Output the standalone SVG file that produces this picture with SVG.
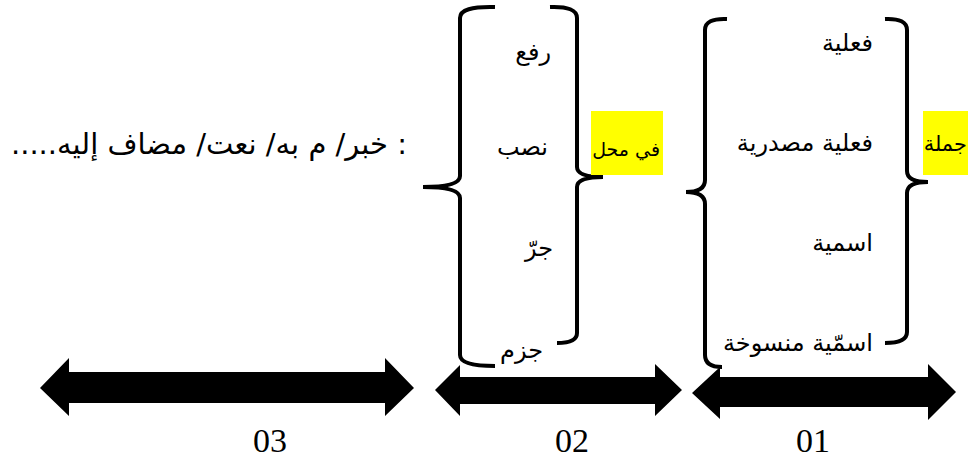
<svg xmlns="http://www.w3.org/2000/svg" width="968" height="463" viewBox="0 0 968 463">
<style>
.ar{font-family:"DejaVu Sans","Noto Sans",sans-serif;font-size:24px;fill:#000;direction:rtl;}
.num{font-family:"Liberation Serif",serif;font-size:34px;fill:#000;}
.brace{fill:none;stroke:#000;stroke-width:4;stroke-linecap:butt;stroke-linejoin:round;}
.hl{fill:#ffff00;}
.arrow{fill:#000;}
</style>
<rect width="968" height="463" fill="#fff"/>
<g id="group01">
<path class="brace" d="M727,19 Q705,18 705,30 L705,180 Q705,192 686,192 M686,192 Q705,192 705,204 L705,355 Q705,367 722,367"/>
<path class="brace" d="M885,19 Q907,18 907,30 L907,171 Q907,182 928,182 M928,182 Q907,182 907,193 L907,332 Q907,343 885,343"/>
<text class="ar" x="873" y="51" text-anchor="start">فعلية</text>
<text class="ar" x="873" y="151" text-anchor="start">فعلية مصدرية</text>
<text class="ar" x="873" y="251" text-anchor="start">اسمية</text>
<text class="ar" x="873" y="351" text-anchor="start">اسمّية منسوخة</text>
</g>
<g id="label01">
<rect class="hl" x="923" y="111" width="45" height="64"/>
<text class="ar" x="967" y="151" text-anchor="start" style="font-size:21px">جملة</text>
</g>
<g id="group02">
<path class="brace" d="M495,7 Q460,6 460,18 L460,176 Q460,187 423,187 M423,187 Q460,187 460,198 L460,355 Q460,366 495,366"/>
<path class="brace" d="M550,7 Q577,6 577,18 L577,167 Q577,177 603,177 M603,177 Q577,177 577,187 L577,333 Q577,343 557,343"/>
<text class="ar" x="551" y="60" text-anchor="start">رفع</text>
<text class="ar" x="548" y="155" text-anchor="start">نصب</text>
<text class="ar" x="553" y="256" text-anchor="start">جرّ</text>
<text class="ar" x="543" y="358" text-anchor="start">جزم</text>
</g>
<g id="label02">
<rect class="hl" x="591" y="111" width="72" height="64"/>
<text class="ar" x="660" y="156" text-anchor="start" style="font-size:19px">في محل</text>
</g>
<g id="group03">
<text class="ar" x="407" y="154" text-anchor="start" style="font-size:29px">: خبر/ م به/ نعت/ مضاف إليه.....</text>
</g>
<g id="connectors">
<polygon class="arrow" points="40,388 69,358 69,372 385,372 385,358 414,388 385,416 385,403 69,403 69,416"/>
<polygon class="arrow" points="435,390 460,365 460,377 655,377 655,364 682,390 655,416 655,404 460,404 460,416"/>
<polygon class="arrow" points="692,393 720,367 720,377 928,377 928,364 956,392 928,420 928,407 720,407 720,419"/>
</g>
<g id="numbers">
<text class="num" x="270" y="452" text-anchor="middle">03</text>
<text class="num" x="572" y="452" text-anchor="middle">02</text>
<text class="num" x="813" y="452" text-anchor="middle">01</text>
</g>
</svg>
